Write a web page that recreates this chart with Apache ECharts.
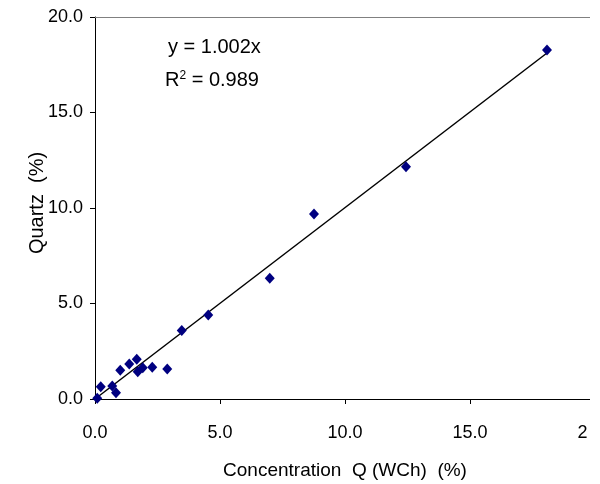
<!DOCTYPE html>
<html>
<head>
<meta charset="utf-8">
<script src="https://cdn.jsdelivr.net/npm/echarts@6/dist/echarts.min.js"></script>
<style>
  html, body { margin: 0; padding: 0; background: #ffffff; }
  #chart { width: 600px; height: 484px; }
</style>
</head>
<body>
<div id="chart"></div>
<script>
// Concentration Q (WCh) vs quartz content, both in %
const concentrationQ = [0.09, 0.23, 0.69, 0.84, 1.01, 1.37, 1.67, 1.71, 1.91, 2.29, 2.89, 3.47, 4.53, 6.99, 8.76, 12.44, 18.08];
const quartz         = [0.04, 0.64, 0.68, 0.33, 1.50, 1.83, 2.08, 1.43, 1.64, 1.66, 1.57, 3.58, 4.40, 6.32, 9.69, 12.16, 18.27];

// Linear fit through the origin
const slope = 1.002;
const rSquared = 0.989;
const fitRange = [0, 18.08];

const axisTicks = [0, 5, 10, 15, 20];

const points = concentrationQ.map((x, i) => [x, quartz[i]]);
const fitLine = fitRange.map(x => [x, slope * x]);

const font = '"Liberation Sans", Arial, sans-serif';

const chart = echarts.init(document.getElementById('chart'));
chart.setOption({
  animation: false,
  backgroundColor: '#ffffff',
  grid: { left: 95, top: 17, right: 5, bottom: 85, containLabel: false, outerBoundsMode: 'none' },
  xAxis: [{
    type: 'value',
    min: axisTicks[0],
    max: axisTicks[axisTicks.length - 1],
    interval: axisTicks[1] - axisTicks[0],
    name: 'Concentration  Q (WCh)  (%)',
    nameLocation: 'middle',
    nameGap: 62,
    nameMoveOverlap: false,
    nameTextStyle: { fontFamily: font, fontSize: 19, color: '#000' },
    axisLine: { lineStyle: { color: '#000', width: 1 } },
    axisTick: { show: true, length: 5, lineStyle: { color: '#000' } },
    axisLabel: { fontFamily: font, fontSize: 18, color: '#000', margin: 25,
                 hideOverlap: false, formatter: v => v.toFixed(1) },
    splitLine: { show: false }
  }, {
    type: 'value',
    position: 'top',
    min: axisTicks[0],
    max: axisTicks[axisTicks.length - 1],
    axisLine: { show: true, lineStyle: { color: '#808080', width: 1 } },
    axisTick: { show: false },
    axisLabel: { show: false },
    splitLine: { show: false }
  }],
  yAxis: {
    type: 'value',
    min: axisTicks[0],
    max: axisTicks[axisTicks.length - 1],
    interval: axisTicks[1] - axisTicks[0],
    name: 'Quartz  (%)',
    nameLocation: 'middle',
    nameGap: 48,
    nameMoveOverlap: false,
    nameTextStyle: { fontFamily: font, fontSize: 20, color: '#000', padding: [0, 0, 0, 10] },
    axisLine: { show: true, lineStyle: { color: '#000', width: 1 } },
    axisTick: { show: true, length: 5, lineStyle: { color: '#000' } },
    axisLabel: { fontFamily: font, fontSize: 18, color: '#000', margin: 12,
                 formatter: v => v.toFixed(1) },
    splitLine: { show: false }
  },
  series: [{
    type: 'line',
    data: fitLine,
    showSymbol: false,
    lineStyle: { color: '#000', width: 1.5 },
    z: 2
  }, {
    type: 'scatter',
    data: points,
    symbol: 'diamond',
    symbolSize: [10, 11],
    itemStyle: { color: '#000080', opacity: 1 },
    z: 3
  }],
  graphic: [{
    type: 'text',
    left: 168,
    top: 37,
    z: 10,
    style: { text: 'y = ' + slope.toFixed(3) + 'x', font: '20px ' + font, fill: '#000' }
  }, {
    type: 'text',
    left: 165,
    top: 70,
    z: 10,
    style: {
      text: 'R{sup|2} = ' + rSquared.toFixed(3),
      font: '20px ' + font,
      fill: '#000',
      rich: { sup: { fontSize: 12, fontFamily: font, verticalAlign: 'top', padding: [0, 0, 8, 0] } }
    }
  }, {
    // chart frame ends just short of the 20.0 tick
    type: 'rect',
    left: 590,
    top: 0,
    z: 100,
    shape: { width: 20, height: 484 },
    style: { fill: '#ffffff' }
  }, {
    type: 'rect',
    left: 587,
    top: 410,
    z: 100,
    shape: { width: 20, height: 40 },
    style: { fill: '#ffffff' }
  }]
});
</script>
</body>
</html>
